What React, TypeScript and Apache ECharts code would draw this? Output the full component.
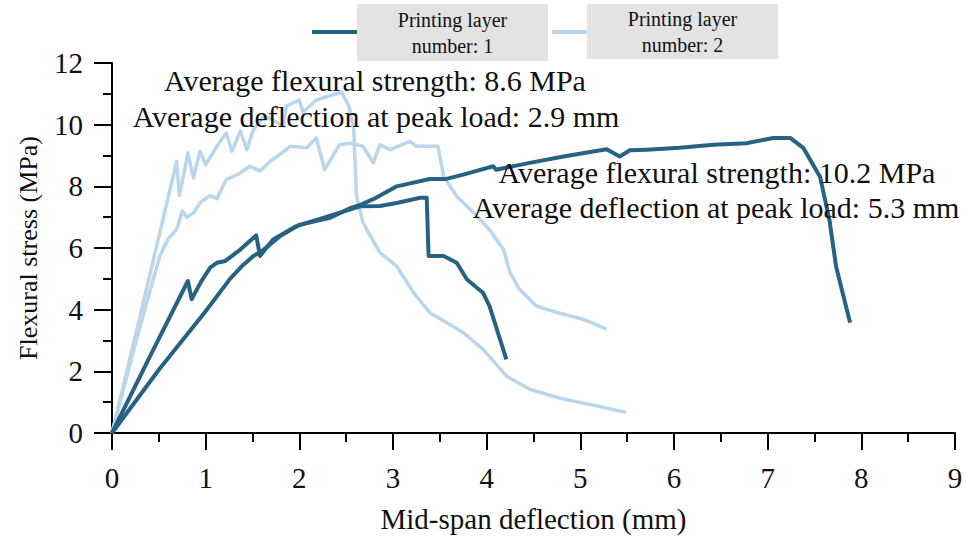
import React, { useEffect, useRef } from "react";
import * as echarts from "echarts";

// Mid-span deflection (mm) / flexural stress (MPa)
const layer1aX = [0, 0.4, 0.81, 0.85, 0.95, 1.05, 1.12, 1.21, 1.37, 1.54, 1.58, 1.72, 1.97, 2.33, 2.65, 2.86, 3.04, 3.29, 3.36, 3.38, 3.54, 3.68, 3.79, 3.96, 4.03, 4.21];
const layer1aY = [0, 2.45, 4.93, 4.34, 4.9, 5.37, 5.52, 5.58, 5.95, 6.41, 5.74, 6.28, 6.71, 7.05, 7.35, 7.36, 7.46, 7.63, 7.63, 5.74, 5.74, 5.52, 4.98, 4.55, 4.12, 2.39];

const layer1bX = [0, 0.5, 1.0, 1.26, 1.4, 1.51, 1.6, 1.8, 2.0, 2.33, 2.55, 2.66, 2.8, 3.04, 3.39, 3.57, 3.75, 4.07, 4.1, 4.46, 4.82, 5.28, 5.42, 5.53, 5.71, 6.06, 6.42, 6.77, 7.06, 7.24, 7.38, 7.56, 7.66, 7.73, 7.8, 7.88];
const layer1bY = [0, 2.05, 3.95, 5.0, 5.45, 5.74, 5.9, 6.4, 6.75, 6.98, 7.3, 7.41, 7.6, 8.0, 8.24, 8.24, 8.38, 8.65, 8.54, 8.76, 8.97, 9.2, 8.97, 9.17, 9.19, 9.25, 9.35, 9.4, 9.57, 9.57, 9.25, 8.3, 6.9, 5.41, 4.55, 3.58];

const layer2aX = [0, 0.3, 0.55, 0.69, 0.72, 0.78, 0.81, 0.87, 0.94, 1.0, 1.12, 1.22, 1.28, 1.37, 1.44, 1.51, 1.63, 1.83, 1.86, 2.0, 2.04, 2.18, 2.36, 2.45, 2.53, 2.58, 2.61, 2.68, 2.86, 3.04, 3.22, 3.39, 3.75, 3.96, 4.21, 4.46, 4.82, 5.17, 5.49];
const layer2aY = [0, 3.8, 7.0, 8.81, 7.7, 8.6, 9.08, 8.27, 9.14, 8.7, 9.3, 9.73, 9.14, 9.79, 9.19, 9.84, 10.3, 9.95, 10.6, 10.8, 10.4, 10.8, 10.97, 11.05, 10.6, 9.9, 7.68, 6.82, 5.85, 5.41, 4.55, 3.91, 3.26, 2.72, 1.85, 1.42, 1.1, 0.88, 0.67];

const layer2bX = [0, 0.25, 0.51, 0.6, 0.69, 0.75, 0.8, 0.87, 0.95, 1.05, 1.12, 1.22, 1.35, 1.47, 1.58, 1.69, 1.86, 1.9, 2.08, 2.18, 2.27, 2.43, 2.54, 2.68, 2.79, 2.86, 2.97, 3.18, 3.25, 3.48, 3.54, 3.68, 3.86, 4.03, 4.18, 4.25, 4.35, 4.53, 4.75, 5.03, 5.28];
const layer2bY = [0, 2.9, 5.74, 6.3, 6.6, 7.2, 7.0, 7.14, 7.5, 7.7, 7.6, 8.22, 8.4, 8.65, 8.5, 8.81, 9.19, 9.3, 9.25, 9.57, 8.54, 9.35, 9.4, 9.3, 8.76, 9.35, 9.19, 9.46, 9.3, 9.3, 8.33, 7.68, 7.14, 6.6, 5.95, 5.2, 4.66, 4.12, 3.91, 3.69, 3.37];

const seriesNames = ["Printing layer number: 1", "Printing layer number: 2"];
const annotationLayer2 = ["Average flexural strength: 8.6 MPa", "Average deflection at peak load: 2.9 mm"];
const annotationLayer1 = ["Average flexural strength: 10.2 MPa", "Average deflection at peak load: 5.3 mm"];

const DARK = "#266284";
const LIGHT = "#b9d6ea";
const SERIF = "'Liberation Serif', 'Times New Roman', serif";

const zip = (xs: number[], ys: number[]) => xs.map((x, i) => [x, ys[i]]);

function textEl(text: string, x: number, y: number, size: number, extra: any = {}) {
  return {
    type: "text",
    x,
    y,
    z: 100,
    style: {
      text,
      fontSize: size,
      fontFamily: SERIF,
      fill: "#111",
      align: "center",
      verticalAlign: "middle",
      textAlign: "center",
      textVerticalAlign: "middle",
      ...extra,
    },
  };
}

export default function App() {
  const ref = useRef<HTMLDivElement>(null);
  useEffect(() => {
    if (!ref.current) return;
    const chart = echarts.init(ref.current, null, { renderer: "svg" });
    const lineSeries = (name: string, data: number[][], color: string, width: number) => ({
      type: "line",
      name,
      data,
      showSymbol: false,
      symbol: "none",
      lineStyle: { color, width, join: "round" },
      itemStyle: { color },
    });
    chart.setOption({
      animation: false,
      backgroundColor: "#fff",
      grid: { left: 112, right: 11, top: 63, bottom: 104, containLabel: false },
      xAxis: {
        type: "value",
        min: 0,
        max: 9,
        interval: 1,
        name: "Mid-span deflection (mm)",
        nameLocation: "middle",
        nameGap: 71,
        nameTextStyle: { fontSize: 29, fontFamily: SERIF, color: "#111" },
        axisLine: { show: true, onZero: false, lineStyle: { color: "#000", width: 2 } },
        axisTick: { show: true, inside: false, length: 17, lineStyle: { color: "#000", width: 2 } },
        minorTick: { show: true, splitNumber: 2, length: 9, lineStyle: { color: "#000", width: 2 } },
        axisLabel: { fontSize: 29, fontFamily: SERIF, color: "#111", margin: 30 },
        splitLine: { show: false },
      },
      yAxis: {
        type: "value",
        min: 0,
        max: 12,
        interval: 2,
        name: "Flexural stress (MPa)",
        nameLocation: "middle",
        nameGap: 71,
        nameRotate: 90,
        nameTextStyle: { fontSize: 26, fontFamily: SERIF, color: "#111" },
        axisLine: { show: true, onZero: false, lineStyle: { color: "#000", width: 2 } },
        axisTick: { show: true, inside: false, length: 18, lineStyle: { color: "#000", width: 2 } },
        minorTick: { show: true, splitNumber: 2, length: 9, lineStyle: { color: "#000", width: 2 } },
        axisLabel: { fontSize: 29, fontFamily: SERIF, color: "#111", margin: 29 },
        splitLine: { show: false },
      },
      series: [
        lineSeries(seriesNames[1], zip(layer2aX, layer2aY), LIGHT, 3.5),
        lineSeries(seriesNames[1], zip(layer2bX, layer2bY), LIGHT, 3.5),
        lineSeries(seriesNames[0], zip(layer1aX, layer1aY), DARK, 4),
        lineSeries(seriesNames[0], zip(layer1bX, layer1bY), DARK, 4),
      ],
      graphic: [
        // legend
        { type: "line", shape: { x1: 312, y1: 32, x2: 358, y2: 32 }, style: { stroke: DARK, lineWidth: 4 } },
        { type: "rect", shape: { x: 357, y: 4, width: 191, height: 57 }, style: { fill: "#e3e3e3" } },
        textEl("Printing layer\nnumber: 1", 452.5, 33, 20, { lineHeight: 26 }),
        { type: "line", shape: { x1: 552, y1: 32, x2: 587, y2: 32 }, style: { stroke: LIGHT, lineWidth: 4 } },
        { type: "rect", shape: { x: 587, y: 4, width: 191, height: 55 }, style: { fill: "#e3e3e3" } },
        textEl("Printing layer\nnumber: 2", 682.5, 32, 20, { lineHeight: 26 }),
        // annotations
        textEl(annotationLayer2[0], 375, 80, 30),
        textEl(annotationLayer2[1], 376, 116, 30),
        textEl(annotationLayer1[0], 717, 172, 30),
        textEl(annotationLayer1[1], 716, 207, 30),
      ],
    });
    return () => chart.dispose();
  }, []);
  return <div ref={ref} style={{ position: "absolute", left: 0, top: 0, width: 966, height: 538 }} />;
}
